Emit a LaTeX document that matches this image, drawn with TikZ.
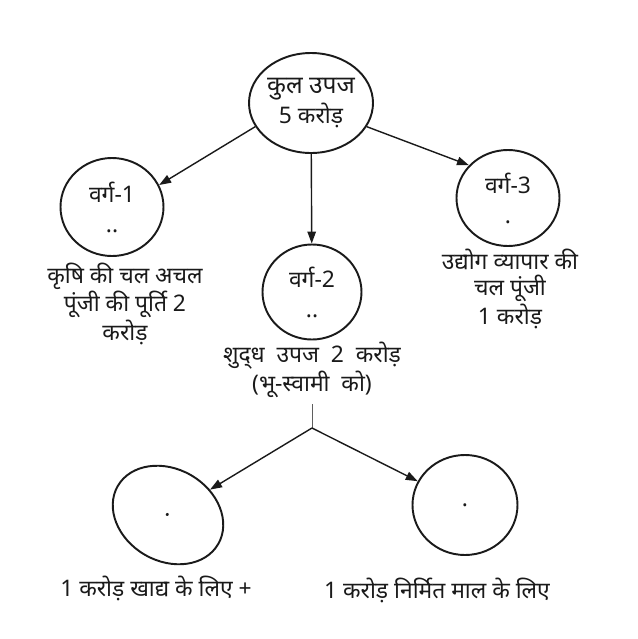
\documentclass[tikz,border=0pt]{standalone}
\usepackage{fontspec}
\setmainfont[Script=Devanagari]{Noto Sans}
\usepackage{tikz}
\usetikzlibrary{positioning,arrows.meta,shapes.geometric}
\definecolor{ink}{HTML}{1A1A1A}
\tikzset{
  blob/.style = {ellipse, draw=ink, line width=1.1pt, inner sep=0pt, align=center,
                 font=\fontsize{13}{17}\selectfont, text=ink},
  lab/.style  = {align=center, font=\fontsize{13}{14.8}\selectfont, text=ink},
  ar/.style   = {-{Triangle[length=2.4mm,width=1.7mm]}, line width=0.8pt, draw=ink},
  stem/.style = {line width=0.5pt, draw=ink!70},
}

\begin{document}
\begin{tikzpicture}
  \useasboundingbox (0,0) rectangle (12.76,-12.78);

  \node[blob, minimum width=2.2cm, minimum height=2.0cm] (top) at (6.22,-2.06)
       {\fontsize{14}{13.5}\selectfont कुल उपज\\5 करोड़};
  \node[blob, minimum width=2.06cm, minimum height=1.96cm] (v1) at (2.24,-4.14) {वर्ग-1\\..};
  \node[blob, minimum width=1.98cm, minimum height=1.9cm] (v2) at (6.24,-5.84) {वर्ग-2\\..};
  \node[blob, minimum width=2.06cm, minimum height=1.92cm] (v3) at (10.16,-3.96) {वर्ग-3\\.};
  \draw[ar] (top.-157) -- (v1.25);
  \draw[ar] (top) -- (v2);
  \draw[ar] (top.-23) -- (v3.140);

  \node[lab] (v1lab) at (2.5,-6.08) {कृषि की चल अचल\\पूंजी की पूर्ति 2\\करोड़};
  \node[lab] (v2lab) at (6.24,-7.4) {शुद्‌ध\ \ उपज\ \ 2\ \ करोड़\\(भू-स्वामी\ \ को)};
  \node[lab] (v3lab) at (10.2,-5.78) {उद्योग व्यापार की\\चल पूंजी\\1 करोड़};

  % split below the net produce
  \coordinate (split) at (6.24,-8.56);
  \draw[stem] (v2lab) -- (split);
  \node[blob, rotate=-30, minimum width=2.32cm, minimum height=1.84cm] (b1) at (3.36,-10.3) {.};
  \node[blob, minimum width=2.1cm, minimum height=2.0cm] (b2) at (9.3,-10.1) {.};
  \draw[ar] (split) -- (b1);
  \draw[ar] (split) -- (b2);

  \node[lab] (b1lab) at (3.12,-11.76) {1 करोड़ खाद्य के लिए +};
  \node[lab] (b2lab) at (8.74,-11.8) {1 करोड़ निर्मित माल के लिए};
\end{tikzpicture}
\end{document}
